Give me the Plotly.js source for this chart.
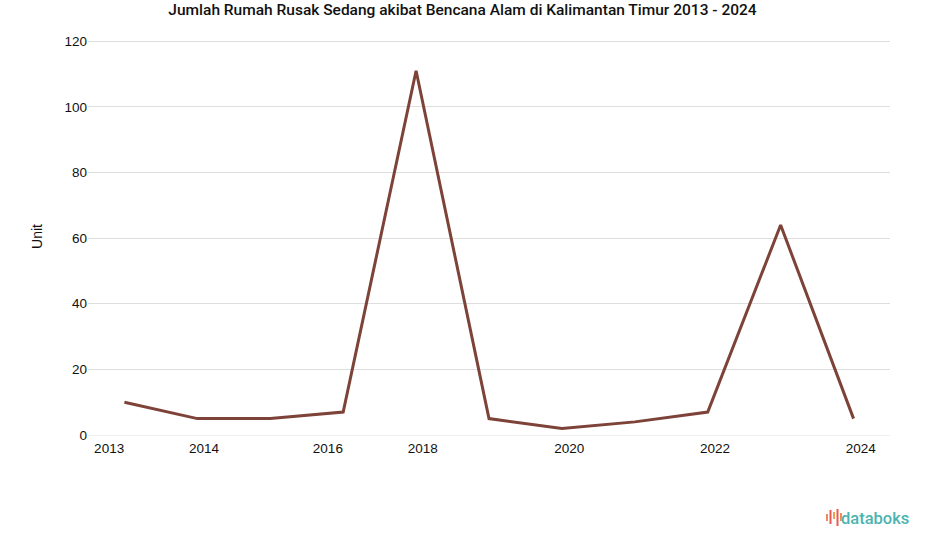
<!DOCTYPE html>
<html>
<head>
<meta charset="utf-8">
<script src="https://cdn.plot.ly/plotly-3.0.1.min.js"></script>
<style>html,body{margin:0;padding:0;background:#fff;}#chart{width:925px;height:547px;}</style>
</head>
<body>
<div id="chart"></div>
<script>
// Data (11 observations, in order)
var pointIndex = [0, 1, 2, 3, 4, 5, 6, 7, 8, 9, 10];
var values = [10, 5, 5, 7, 111, 5, 2, 4, 7, 64, 5];
var tickLabels = ['2013', '2014', '2016', '2018', '2020', '2022', '2024'];
var tickPlaces = [-0.21, 1.09, 2.79, 4.09, 6.1, 8.1, 10.1];

var trace = {
  x: pointIndex,
  y: values,
  type: 'scatter',
  mode: 'lines',
  line: {color: '#7d4238', width: 3},
  hoverinfo: 'y'
};

var layout = {
  width: 925, height: 547,
  margin: {l: 88, r: 35, t: 38, b: 112},
  paper_bgcolor: '#ffffff', plot_bgcolor: '#ffffff',
  showlegend: false,
  title: {
    text: 'Jumlah Rumah Rusak Sedang akibat Bencana Alam di Kalimantan Timur 2013 - 2024',
    font: {family: 'Roboto, sans-serif', size: 15.5, weight: 500, color: '#111'},
    x: 0.5, xanchor: 'center', y: 0.982, yanchor: 'middle'
  },
  xaxis: {
    range: [-0.5, 10.5],
    tickmode: 'array', tickvals: tickPlaces, ticktext: tickLabels,
    showgrid: false, zeroline: false, showline: false, ticks: '',
    ticklabelstandoff: 3,
    tickfont: {family: 'Liberation Sans, Arial, sans-serif', size: 13.5, color: '#111'},
    fixedrange: true
  },
  yaxis: {
    range: [0, 121], tickvals: [0, 20, 40, 60, 80, 100, 120],
    showgrid: true, gridcolor: '#dedede', gridwidth: 1,
    zeroline: true, zerolinecolor: '#efefef', zerolinewidth: 1,
    showline: false, ticks: '',
    tickfont: {family: 'Liberation Sans, Arial, sans-serif', size: 13.5, color: '#111'},
    title: {text: 'Unit', font: {family: 'Liberation Sans, Arial, sans-serif', size: 14, color: '#111'}, standoff: 18},
    fixedrange: true
  },
  annotations: [{
    text: 'databoks', xref: 'paper', yref: 'paper',
    x: (911 - 88) / 802, y: (435 - 518) / 397, xanchor: 'right', yanchor: 'middle', showarrow: false,
    font: {family: 'Roboto, sans-serif', size: 16.5, weight: 500, color: '#4bb4b0'}
  }],
  shapes: []
};

// small logo bars (decorative)
var barXs = [827, 830.5, 834, 837.5, 841];
var barTop = [514, 510, 512, 509, 513];
var barBot = [521, 524, 519, 526, 521];
var barCol = ['#f08a5d', '#e85a4f', '#f0a050', '#e85a4f', '#f08a5d'];
for (var i = 0; i < barXs.length; i++) {
  layout.shapes.push({
    type: 'line', xref: 'paper', yref: 'paper',
    x0: (barXs[i] - 88) / 802, x1: (barXs[i] - 88) / 802,
    y0: (435 - barTop[i]) / 397, y1: (435 - barBot[i]) / 397,
    line: {color: barCol[i], width: 2}
  });
}

Plotly.newPlot('chart', [trace], layout, {displayModeBar: false, staticPlot: true});
</script>
</body>
</html>
